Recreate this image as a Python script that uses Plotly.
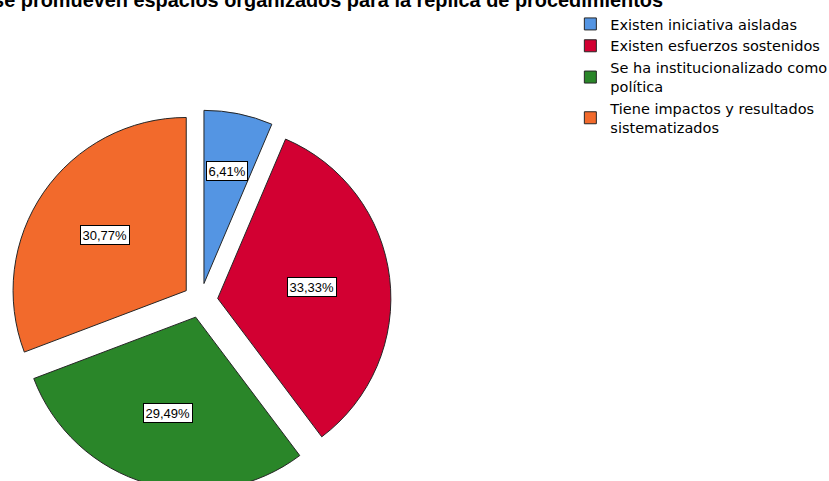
import math
import plotly.graph_objects as go

# Survey answers and their share of respondents (%)
categories = [
    "Existen iniciativa aisladas",
    "Existen esfuerzos sostenidos",
    "Se ha institucionalizado como<br>política",
    "Tiene impactos y resultados<br>sistematizados",
]
percentages = [6.41, 33.33, 29.49, 30.77]
colors = ["#5495e3", "#d20032", "#2a8629", "#f26a2c"]

title_text = "se promueven espacios organizados para la réplica de procedimientos"

W, H = 829, 491
MARGIN_T = 110
PULL = 0.10
DOMAIN_X = [0.0, 0.4837]

fig = go.Figure(
    go.Pie(
        labels=categories,
        values=percentages,
        sort=False,
        direction="clockwise",
        rotation=0,
        pull=[PULL] * len(percentages),
        marker=dict(colors=colors, line=dict(color="#262626", width=1)),
        textinfo="none",
        domain=dict(x=DOMAIN_X, y=[0, 1]),
        showlegend=True,
    )
)

# Percentage labels in boxed tags, placed at each (pulled) slice's centroid
plot_w = W
plot_h = H - MARGIN_T
rx = plot_w * (DOMAIN_X[1] - DOMAIN_X[0]) / 2
ry = plot_h / 2
radius = min(rx, ry) / (1 + PULL)
cx_paper = (DOMAIN_X[0] + DOMAIN_X[1]) / 2
cy_paper = 0.5

total = sum(percentages)
start = 0.0
for pct in percentages:
    frac = pct / total
    alpha = frac * 2 * math.pi
    mid = (start + frac / 2) * 2 * math.pi
    centroid = 4 * radius * math.sin(alpha / 2) / (3 * alpha)
    dist = PULL * radius + centroid
    dx = dist * math.sin(mid)
    dy = dist * math.cos(mid)
    fig.add_annotation(
        x=cx_paper + dx / plot_w,
        y=cy_paper + dy / plot_h,
        xref="paper",
        yref="paper",
        xanchor="center",
        yanchor="middle",
        text=f"{pct:.2f}%".replace(".", ","),
        showarrow=False,
        bgcolor="white",
        bordercolor="black",
        borderwidth=1,
        borderpad=1.5,
        font=dict(family="Liberation Sans, Arial, sans-serif", size=13, color="black"),
    )
    start += frac

fig.update_layout(
    width=W,
    height=H,
    autosize=False,
    paper_bgcolor="white",
    plot_bgcolor="white",
    margin=dict(l=0, r=0, t=MARGIN_T, b=0, autoexpand=False),
    title=dict(
        text=title_text,
        xref="container",
        yref="container",
        x=663 / W,
        xanchor="right",
        y=1.0,
        yanchor="middle",
        font=dict(family="Liberation Sans, Arial, sans-serif", size=19.9,
                  color="black", weight="bold"),
    ),
    legend=dict(
        xref="container",
        yref="container",
        x=0.688,
        xanchor="left",
        y=1 - 8 / H,
        yanchor="top",
        bgcolor="rgba(0,0,0,0)",
        borderwidth=0,
        itemwidth=30,
        font=dict(family="DejaVu Sans, sans-serif", size=14.5, color="black"),
        traceorder="normal",
    ),
)

fig.write_html(
    "out.html",
    post_script=(
        "document.documentElement.style.overflow='hidden';"
        "document.body.style.overflow='hidden';"
        "document.body.style.margin='0';"
    ),
)
